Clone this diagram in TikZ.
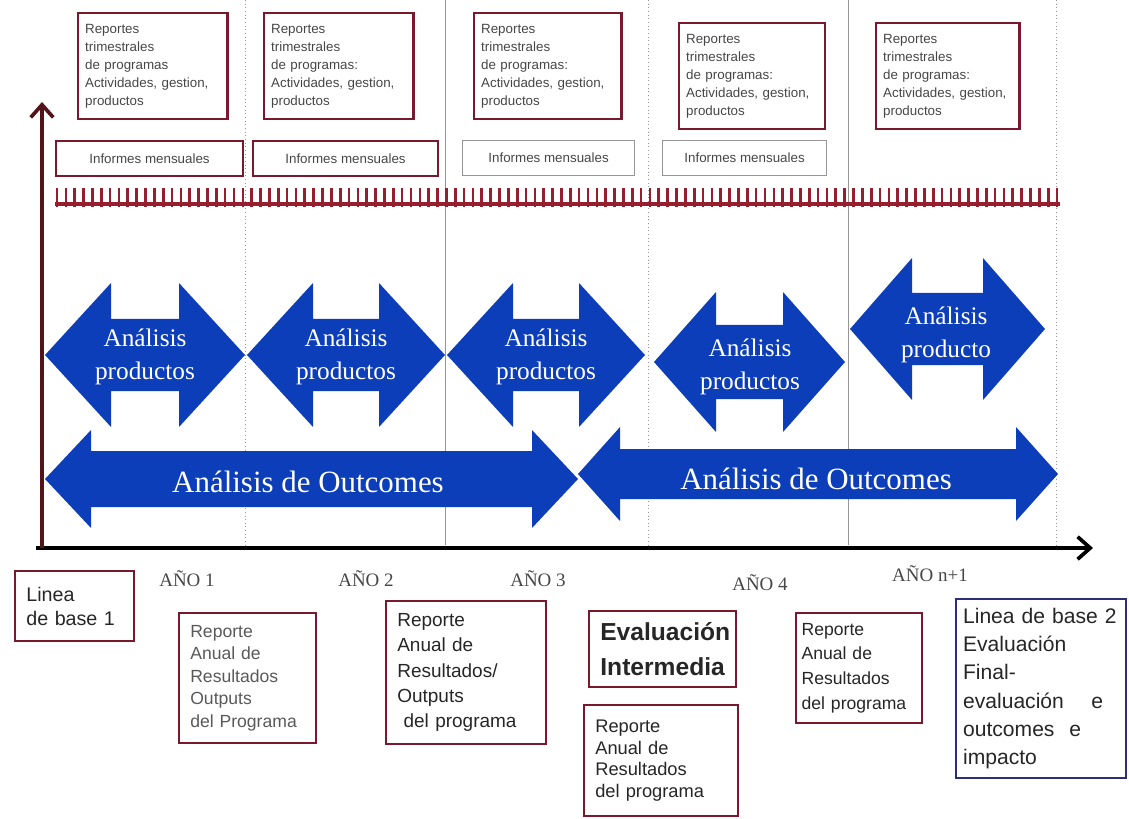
\documentclass[tikz,border=0pt]{standalone}
\usepackage{fontspec}
\setmainfont{Liberation Serif}
\setsansfont{Liberation Sans}
\usetikzlibrary{arrows.meta}
\definecolor{boxred}{RGB}{120, 25, 45}
\definecolor{tickred}{RGB}{150, 30, 45}
\definecolor{axisred}{RGB}{80, 20, 25}
\definecolor{arrowblue}{RGB}{12, 62, 185}
\definecolor{textgray}{RGB}{70, 70, 70}
\definecolor{linegray}{RGB}{150, 150, 150}
\definecolor{boxnavy}{RGB}{45, 45, 120}

\begin{document}
\begin{tikzpicture}[
  x=0.025cm, y=-0.025cm,
  topbox/.style={
    draw=boxred, line width=1.6pt, anchor=north west,
    align=left, text=textgray, inner xsep=5pt, minimum height=2.65cm,
    font=\sffamily\fontsize{9.5}{12.8}\selectfont
  },
  mesbox/.style={
    draw=boxred, line width=1.4pt, anchor=north west,
    minimum height=0.875cm, text=textgray,
    font=\sffamily\fontsize{9.5}{11}\selectfont
  },
  botbox/.style={
    draw=boxred, line width=1.5pt, anchor=north west,
    align=left, inner xsep=8pt, text=black!85
  },
  prodtext/.style={text=white, align=center, font=\fontsize{18}{23}\selectfont},
  outtext/.style={text=white, font=\fontsize{22}{26}\selectfont},
  year/.style={text=textgray, font=\fontsize{13.5}{15}\selectfont},
  divider/.style={linegray, line width=0.6pt},
  axis/.style={line width=2.6pt, -{Straight Barb[length=9pt,width=16pt]}}
]
\useasboundingbox (0,0) rectangle (1129,819);

%% ── YEAR DIVIDERS ──
\draw[divider, dotted] (245,0) -- (245,545);
\draw[divider] (445,0) -- (445,545);
\draw[divider, dotted] (648,0) -- (648,545);
\draw[divider] (848,0) -- (848,545);
\draw[divider, dotted] (1056,0) -- (1056,545);

%% ── QUARTERLY REPORTS ──
\node[topbox, text width=3.38cm] (T1) at (77,12)
  {Reportes\\trimestrales\\de programas\\Actividades, gestion,\\productos};
\node[topbox, text width=3.38cm] (T2) at (263,12)
  {Reportes\\trimestrales\\de programas:\\Actividades, gestion,\\productos};
\node[topbox, text width=3.33cm] (T3) at (473,12)
  {Reportes\\trimestrales\\de programas:\\Actividades, gestion,\\productos};
\node[topbox, text width=3.3cm] (T4) at (678,22)
  {Reportes\\trimestrales\\de programas:\\Actividades, gestion,\\productos};
\node[topbox, text width=3.23cm] (T5) at (875,22)
  {Reportes\\trimestrales\\de programas:\\Actividades, gestion,\\productos};

%% ── MONTHLY REPORTS ──
\node[mesbox, minimum width=4.675cm] (M1) at (55,140) {Informes mensuales};
\node[mesbox, minimum width=4.625cm] (M2) at (252,140) {Informes mensuales};
\node[mesbox, draw=linegray, line width=0.8pt, minimum width=4.3cm] (M3) at (462,140) {Informes mensuales};
\node[mesbox, draw=linegray, line width=0.8pt, minimum width=4.1cm] (M4) at (662,140) {Informes mensuales};

%% ── TICK BAND ──
\draw[tickred, line width=2.4pt] (55,204) -- (1060,204);
\foreach \i in {0,...,113}
  \draw[tickred, line width=1.9pt] ({57+8.85*\i},188) -- ++(0,19);

%% ── PRODUCT ANALYSIS ARROWS ──
\fill[arrowblue] (45,355) -- (111,283) -- (111,319) -- (179,319) -- (179,283) -- (245,355)
  -- (179,427) -- (179,391) -- (111,391) -- (111,427) -- cycle;
\fill[arrowblue] (247,355) -- (313,283) -- (313,319) -- (379,319) -- (379,283) -- (445,355)
  -- (379,427) -- (379,391) -- (313,391) -- (313,427) -- cycle;
\fill[arrowblue] (447,355) -- (513,283) -- (513,319) -- (579,319) -- (579,283) -- (645,355)
  -- (579,427) -- (579,391) -- (513,391) -- (513,427) -- cycle;
\fill[arrowblue] (654,362) -- (716,292) -- (716,325) -- (783,325) -- (783,292) -- (845,362)
  -- (783,432) -- (783,399) -- (716,399) -- (716,432) -- cycle;
\fill[arrowblue] (850,329) -- (912,258) -- (912,293) -- (983,293) -- (983,258) -- (1045,329)
  -- (983,400) -- (983,365) -- (912,365) -- (912,400) -- cycle;
\node[prodtext] (P1) at (145,357) {Análisis\\productos};
\node[prodtext] (P2) at (346,357) {Análisis\\productos};
\node[prodtext] (P3) at (546,357) {Análisis\\productos};
\node[prodtext] (P4) at (750,367) {Análisis\\productos};
\node[prodtext] (P5) at (946,335) {Análisis\\producto};

%% ── OUTCOME ANALYSIS ARROWS ──
\fill[arrowblue] (45,479) -- (91,430) -- (91,451) -- (532,451) -- (532,430) -- (578,479)
  -- (532,528) -- (532,507) -- (91,507) -- (91,528) -- cycle;
\fill[arrowblue] (578,474) -- (620,427) -- (620,449) -- (1016,449) -- (1016,427) -- (1058,474)
  -- (1016,521) -- (1016,499) -- (620,499) -- (620,521) -- cycle;
\node[outtext] (O1) at (308,482) {Análisis de Outcomes};
\node[outtext] (O2) at (816,479) {Análisis de Outcomes};

%% ── AXES ──
\coordinate (origin) at (42,548);
\coordinate (xend) at (1093,548);
\coordinate (yend) at (42,102);
\draw[axis] (36,548) -- (xend);
\draw[axis, axisred] (origin) -- (yend);

%% ── YEARS ──
\node[year] (Y1) at (187,579) {AÑO 1};
\node[year] (Y2) at (366,579) {AÑO 2};
\node[year] (Y3) at (538,579) {AÑO 3};
\node[year] (Y4) at (760,583) {AÑO 4};
\node[year] (Y5) at (930,574) {AÑO n+1};

%% ── ANNUAL OUTPUTS ──
\node[botbox, text width=2.415cm, minimum height=1.75cm,
  font=\sffamily\fontsize{14}{17}\selectfont] (B1) at (14,570) {Linea\\de base 1};
\node[botbox, text width=2.865cm, minimum height=3.25cm, text=black!65,
  font=\sffamily\fontsize{12.5}{16}\selectfont] (B2) at (178,612)
  {Reporte\\Anual de\\Resultados\\Outputs\\del Programa};
\node[botbox, text width=3.44cm, minimum height=3.575cm,
  font=\sffamily\fontsize{13.5}{18}\selectfont] (B3) at (385,600)
  {Reporte\\Anual de\\Resultados/\\Outputs\\\ del programa};
\node[botbox, text width=3.115cm, minimum height=1.9cm, align=center,
  font=\sffamily\bfseries\fontsize{17.5}{25}\selectfont] (B4) at (588,610)
  {Evaluación\\Intermedia};
\node[botbox, text width=3.29cm, minimum height=2.775cm,
  font=\sffamily\fontsize{13}{15.5}\selectfont] (B5) at (583,704)
  {Reporte\\Anual de\\Resultados\\del programa};
\node[botbox, inner xsep=4pt, text width=2.87cm, minimum height=2.75cm,
  font=\sffamily\fontsize{12.5}{17.5}\selectfont] (B6) at (795,612)
  {Reporte\\Anual de\\Resultados\\del programa};
\node[botbox, draw=boxnavy, inner xsep=5pt, text width=3.9cm, minimum height=4.475cm,
  font=\sffamily\fontsize{15}{20}\selectfont] (B7) at (955,598)
  {Linea de base 2\\Evaluación\\Final-\\evaluación\hspace{1.3em}e\\outcomes\hspace{0.7em}e\\impacto};

\end{tikzpicture}
\end{document}
